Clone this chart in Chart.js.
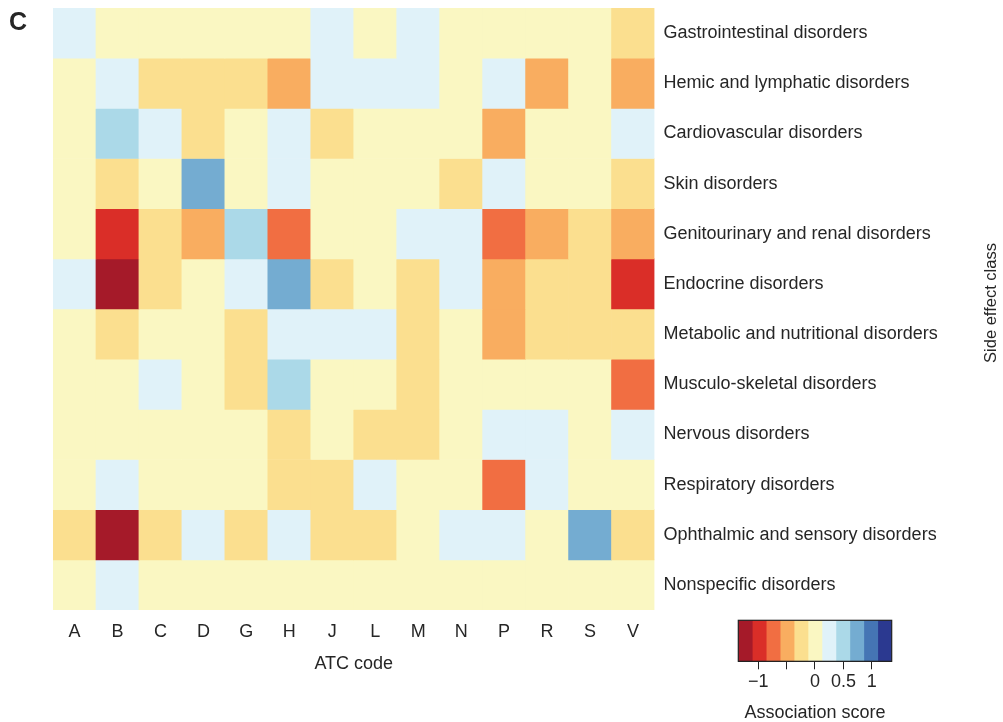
<!DOCTYPE html>
<html>
<head>
<meta charset="utf-8">
<script src="https://cdn.jsdelivr.net/npm/chart.js@4.4.1/dist/chart.umd.min.js"></script>
<style>
  html, body { margin: 0; padding: 0; background: #fff; overflow: hidden; }
  #wrap { position: relative; width: 1003px; height: 722px; }
  #heatmap { position: absolute; left: 0; top: 0; }
  #colorbar { position: absolute; left: 700px; top: 600px; }
</style>
</head>
<body>
<div id="wrap">
  <canvas id="heatmap" width="1003" height="722"></canvas>
  <canvas id="colorbar" width="260" height="122"></canvas>
</div>
<script>
const FONT = "'Liberation Sans', Arial, sans-serif";
const TEXT = '#262626';

const atcCodes = ['A', 'B', 'C', 'D', 'G', 'H', 'J', 'L', 'M', 'N', 'P', 'R', 'S', 'V'];
const sideEffectClasses = [
    'Gastrointestinal disorders',
    'Hemic and lymphatic disorders',
    'Cardiovascular disorders',
    'Skin disorders',
    'Genitourinary and renal disorders',
    'Endocrine disorders',
    'Metabolic and nutritional disorders',
    'Musculo-skeletal disorders',
    'Nervous disorders',
    'Respiratory disorders',
    'Ophthalmic and sensory disorders',
    'Nonspecific disorders'
];
// association score, one row per side effect class, columns follow atcCodes
const scores = [
    [0.25, 0, 0, 0, 0, 0, 0.25, 0, 0.25, 0, 0, 0, 0, -0.25],
    [0, 0.25, -0.25, -0.25, -0.25, -0.5, 0.25, 0.25, 0.25, 0, 0.25, -0.5, 0, -0.5],
    [0, 0.5, 0.25, -0.25, 0, 0.25, -0.25, 0, 0, 0, -0.5, 0, 0, 0.25],
    [0, -0.25, 0, 0.75, 0, 0.25, 0, 0, 0, -0.25, 0.25, 0, 0, -0.25],
    [0, -1.0, -0.25, -0.5, 0.5, -0.75, 0, 0, 0.25, 0.25, -0.75, -0.5, -0.25, -0.5],
    [0.25, -1.25, -0.25, 0, 0.25, 0.75, -0.25, 0, -0.25, 0.25, -0.5, -0.25, -0.25, -1.0],
    [0, -0.25, 0, 0, -0.25, 0.25, 0.25, 0.25, -0.25, 0, -0.5, -0.25, -0.25, -0.25],
    [0, 0, 0.25, 0, -0.25, 0.5, 0, 0, -0.25, 0, 0, 0, 0, -0.75],
    [0, 0, 0, 0, 0, -0.25, 0, -0.25, -0.25, 0, 0.25, 0.25, 0, 0.25],
    [0, 0.25, 0, 0, 0, -0.25, -0.25, 0.25, 0, 0, -0.75, 0.25, 0, 0],
    [-0.25, -1.25, -0.25, 0.25, -0.25, 0.25, -0.25, -0.25, 0, 0.25, 0.25, 0, 0.75, -0.25],
    [0, 0.25, 0, 0, 0, 0, 0, 0, 0, 0, 0, 0, 0, 0]
];

const scoreMin = -1.35;
const scoreMax = 1.35;
const paletteColors = ['#a51a29', '#da2e28', '#f16e42', '#f9ad60', '#fbdf8f', '#faf7c2',
                       '#e0f2f9', '#abd9e8', '#74acd1', '#4575b4', '#2b3990'];
const colorbarTicks = [-1, -0.5, 0, 0.5, 1];
const colorbarLabels = ['\u22121', '', '0', '0.5', '1'];

const binWidth = (scoreMax - scoreMin) / paletteColors.length;

function scoreColor(v) {
    let i = Math.floor((v - scoreMin) / binWidth);
    i = Math.max(0, Math.min(paletteColors.length - 1, i));
    return paletteColors[i];
}

// one floating-bar dataset per row of the heatmap
const heatDatasets = sideEffectClasses.map((name, r) => ({
    label: name,
    data: scores[r].map(() => [r, r + 1]),
    backgroundColor: scores[r].map(scoreColor),
    borderWidth: 0,
    barPercentage: 1,
    categoryPercentage: 1,
    grouped: false
}));

const panelText = {
    id: 'panelText',
    afterDraw(chart) {
        const ctx = chart.ctx;
        const area = chart.chartArea;
        ctx.save();
        ctx.fillStyle = TEXT;
        ctx.font = 'bold 25px ' + FONT;
        ctx.textBaseline = 'alphabetic';
        ctx.fillText('C', 9, 30);
        ctx.font = '16.5px ' + FONT;
        ctx.translate(991, (area.top + area.bottom) / 2 - 6);
        ctx.rotate(-Math.PI / 2);
        ctx.textAlign = 'center';
        ctx.textBaseline = 'middle';
        ctx.fillText('Side effect class', 0, 0);
        ctx.restore();
    }
};

new Chart(document.getElementById('heatmap'), {
    type: 'bar',
    data: { labels: atcCodes, datasets: heatDatasets },
    options: {
        responsive: false,
        animation: false,
        layout: { padding: { left: 53, top: 8, right: 0, bottom: 49 } },
        plugins: { legend: { display: false }, tooltip: { enabled: false } },
        scales: {
            x: {
                grid: { display: false, drawTicks: false },
                border: { display: false },
                afterFit: s => { s.height = 63; },
                ticks: { color: TEXT, font: { family: FONT, size: 18, lineHeight: 1 }, padding: 13, maxRotation: 0, autoSkip: false },
                title: { display: true, text: 'ATC code', color: TEXT, font: { family: FONT, size: 18, lineHeight: 1 }, padding: { top: 1, bottom: 0 } }
            },
            y: {
                type: 'linear',
                position: 'right',
                min: 0,
                max: sideEffectClasses.length,
                reverse: true,
                grid: { display: false, drawTicks: false },
                border: { display: false },
                afterBuildTicks: s => { s.ticks = sideEffectClasses.map((_, i) => ({ value: i + 0.5 })); },
                afterFit: s => {
                    s.width = 348.5;
                    s.paddingTop = 0;
                    s.paddingBottom = 0;
                },
                ticks: {
                    autoSkip: false,
                    padding: 9,
                    color: TEXT,
                    font: { family: FONT, size: 18, lineHeight: 1 },
                    callback: (v, i) => sideEffectClasses[i]
                }
            }
        }
    },
    plugins: [panelText]
});

// colour key
const colorbarDatasets = paletteColors.map((c, i) => ({
    data: [[scoreMin + i * binWidth, scoreMin + (i + 1) * binWidth]],
    backgroundColor: c,
    borderWidth: 0,
    barPercentage: 1,
    categoryPercentage: 1,
    grouped: false
}));

const frame = {
    id: 'frame',
    afterDatasetsDraw(chart) {
        const a = chart.chartArea;
        const ctx = chart.ctx;
        ctx.save();
        ctx.strokeStyle = '#222';
        ctx.lineWidth = 1.2;
        ctx.strokeRect(a.left, a.top, a.right - a.left, a.bottom - a.top);
        ctx.restore();
    }
};

new Chart(document.getElementById('colorbar'), {
    type: 'bar',
    data: { labels: [''], datasets: colorbarDatasets },
    options: {
        indexAxis: 'y',
        responsive: false,
        animation: false,
        layout: { padding: { left: 38.3, right: 68.3, top: 20.3, bottom: 0 } },
        plugins: { legend: { display: false }, tooltip: { enabled: false } },
        scales: {
            y: { display: false },
            x: {
                type: 'linear',
                min: scoreMin,
                max: scoreMax,
                afterBuildTicks: s => { s.ticks = colorbarTicks.map(v => ({ value: v })); },
                afterFit: s => {
                    s.height = 60.7;
                    s.paddingLeft = 0;
                    s.paddingRight = 0;
                },
                grid: { drawOnChartArea: false, drawTicks: true, tickLength: 8, color: '#222', lineWidth: 1 },
                border: { display: true, color: '#222', width: 1 },
                ticks: {
                    padding: 3.7,
                    autoSkip: false,
                    maxRotation: 0,
                    color: TEXT,
                    font: { family: FONT, size: 18, lineHeight: 1 },
                    callback: (v, i) => colorbarLabels[i]
                },
                title: { display: true, text: 'Association score', color: TEXT, font: { family: FONT, size: 18, lineHeight: 1 }, padding: { top: 13, bottom: 0 } }
            }
        }
    },
    plugins: [frame]
});
</script>
</body>
</html>
